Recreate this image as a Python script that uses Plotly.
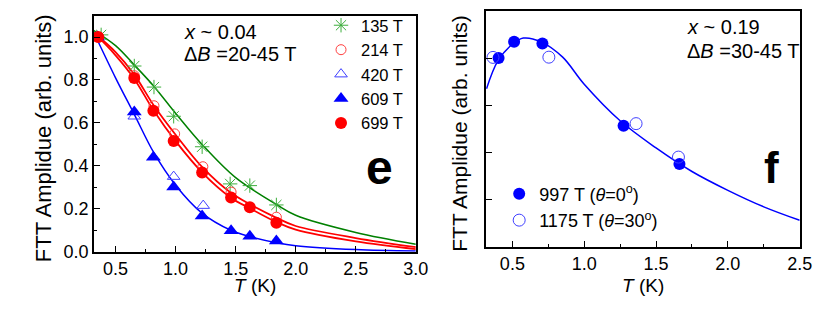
import plotly.graph_objects as go

# ---------------- Panel e data (x ~ 0.04) ----------------
T_135 = [0.38, 0.656, 0.82, 0.984, 1.221, 1.454, 1.618, 1.839]
A_135 = [1.01, 0.865, 0.767, 0.631, 0.489, 0.316, 0.308, 0.218]

T_214 = [0.35, 0.656, 0.82, 0.992, 1.227, 1.462, 1.839]
A_214 = [1.00, 0.82, 0.68, 0.549, 0.396, 0.278, 0.161]

T_420 = [0.35, 0.656, 0.984, 1.23]
A_420 = [1.00, 0.631, 0.35, 0.215]

T_609 = [0.35, 0.656, 0.815, 0.984, 1.221, 1.462, 1.618, 1.839]
A_609 = [1.00, 0.651, 0.44, 0.301, 0.166, 0.098, 0.072, 0.05]

T_699 = [0.356, 0.656, 0.815, 0.984, 1.221, 1.462, 1.618, 1.839]
A_699 = [1.00, 0.809, 0.657, 0.516, 0.369, 0.253, 0.207, 0.135]

# fitted curves
fitT_green = [0.32, 0.5, 0.656, 0.82, 1.0, 1.22, 1.5, 1.84, 2.0, 2.5, 3.0]
fitA_green = [1.03, 0.96, 0.87, 0.77, 0.645, 0.50, 0.345, 0.22, 0.17, 0.09, 0.035]

fitT_red1 = [0.32, 0.5, 0.656, 0.82, 1.0, 1.22, 1.46, 1.84, 2.0, 2.5, 3.0]
fitA_red1 = [1.02, 0.93, 0.825, 0.68, 0.545, 0.395, 0.275, 0.158, 0.12, 0.064, 0.022]

fitT_red2 = [0.32, 0.5, 0.656, 0.82, 1.0, 1.22, 1.46, 1.62, 1.84, 2.0, 2.5, 3.0]
fitA_red2 = [1.02, 0.915, 0.805, 0.655, 0.515, 0.37, 0.252, 0.202, 0.138, 0.103, 0.048, 0.012]

fitT_blue = [0.32, 0.5, 0.656, 0.82, 1.0, 1.22, 1.46, 1.62, 1.84, 2.0, 2.5, 3.0]
fitA_blue = [1.02, 0.81, 0.64, 0.46, 0.31, 0.18, 0.10, 0.07, 0.042, 0.028, 0.01, 0.003]

# ---------------- Panel f data (x ~ 0.19) ----------------
T_997 = [0.404, 0.512, 0.709, 1.274, 1.663]
A_997 = [0.801, 0.870, 0.863, 0.514, 0.352]

T_1175 = [0.365, 0.754, 1.361, 1.656]
A_1175 = [0.804, 0.805, 0.523, 0.381]

fitT_f = [0.32, 0.4, 0.5, 0.576, 0.7, 0.85, 1.0, 1.25, 1.5, 1.75, 2.0, 2.25, 2.5]
fitA_f = [0.671, 0.79, 0.86, 0.886, 0.87, 0.805, 0.69, 0.535, 0.42, 0.32, 0.24, 0.17, 0.113]

W, H = 830, 317
FONT = "Liberation Sans, Arial, sans-serif"
GREEN_L = "#008000"
GREEN_M = "#3cae3c"
RED = "#ff0000"
BLUE = "#0000ff"

fig = go.Figure()

# lines panel e
fig.add_trace(go.Scatter(x=fitT_green, y=fitA_green, mode="lines", line=dict(color=GREEN_L, width=1.5, shape="spline"),
                         showlegend=False, xaxis="x", yaxis="y", hoverinfo="skip"))
fig.add_trace(go.Scatter(x=fitT_red1, y=fitA_red1, mode="lines", line=dict(color=RED, width=1.8, shape="spline"),
                         showlegend=False, xaxis="x", yaxis="y", hoverinfo="skip"))
fig.add_trace(go.Scatter(x=fitT_red2, y=fitA_red2, mode="lines", line=dict(color=RED, width=1.8, shape="spline"),
                         showlegend=False, xaxis="x", yaxis="y", hoverinfo="skip"))
fig.add_trace(go.Scatter(x=fitT_blue, y=fitA_blue, mode="lines", line=dict(color=BLUE, width=1.5, shape="spline"),
                         showlegend=False, xaxis="x", yaxis="y", hoverinfo="skip"))

# markers panel e
fig.add_trace(go.Scatter(x=T_135, y=A_135, mode="markers", name="135 T", legend="legend",
                         marker=dict(symbol="asterisk-open", size=12, color=GREEN_M, line=dict(color=GREEN_M, width=1)),
                         xaxis="x", yaxis="y"))
fig.add_trace(go.Scatter(x=T_214, y=A_214, mode="markers", name="214 T", legend="legend",
                         marker=dict(symbol="circle-open", size=10, color="#ff4040", line=dict(color="#ff4040", width=1)),
                         xaxis="x", yaxis="y"))
fig.add_trace(go.Scatter(x=T_420, y=A_420, mode="markers", name="420 T", legend="legend",
                         marker=dict(symbol="triangle-up-open", size=11, color="#4040ff", line=dict(color="#4040ff", width=1)),
                         xaxis="x", yaxis="y"))
fig.add_trace(go.Scatter(x=T_609, y=A_609, mode="markers", name="609 T", legend="legend",
                         marker=dict(symbol="triangle-up", size=13, color=BLUE),
                         xaxis="x", yaxis="y"))
fig.add_trace(go.Scatter(x=T_699, y=A_699, mode="markers", name="699 T", legend="legend",
                         marker=dict(symbol="circle", size=12, color=RED),
                         xaxis="x", yaxis="y"))

# panel f
fig.add_trace(go.Scatter(x=fitT_f, y=fitA_f, mode="lines", line=dict(color=BLUE, width=1.5, shape="spline"),
                         showlegend=False, xaxis="x2", yaxis="y2", hoverinfo="skip"))
fig.add_trace(go.Scatter(x=T_997, y=A_997, mode="markers", name="997 T (<i>θ</i>=0<sup>o</sup>)", legend="legend2",
                         marker=dict(symbol="circle", size=12, color=BLUE),
                         xaxis="x2", yaxis="y2"))
fig.add_trace(go.Scatter(x=T_1175, y=A_1175, mode="markers", name="1175 T (<i>θ</i>=30<sup>o</sup>)", legend="legend2",
                         marker=dict(symbol="circle-open", size=12, color="#4040ff", line=dict(color="#4040ff", width=1)),
                         xaxis="x2", yaxis="y2"))

def px(x):
    return x / W

def py(y):
    return 1 - y / H

axis_common = dict(showline=True, linecolor="black", linewidth=1.5, mirror=True,
                   ticks="inside", ticklen=6, tickwidth=1.2, tickcolor="black",
                   showgrid=False, zeroline=False,
                   tickfont=dict(family=FONT, size=18, color="black"))

fig.update_layout(
    width=W, height=H,
    margin=dict(l=0, r=0, t=0, b=0),
    paper_bgcolor="white", plot_bgcolor="white",
    font=dict(family=FONT, color="black"),
    xaxis=dict(domain=[px(87.3), px(414.3)], range=[0.32, 3.0], dtick=0.5, tick0=0.5, tickformat=".1f",
               minor=dict(dtick=0.25, tick0=0.25, ticks="inside", ticklen=3, tickcolor="black"),
               anchor="y", **axis_common),
    yaxis=dict(domain=[py(251.7), py(7.8)], range=[0, 1.1], dtick=0.2, tick0=0, tickformat=".1f",
               minor=dict(dtick=0.1, tick0=0, ticks="inside", ticklen=3, tickcolor="black"),
               anchor="x", **axis_common),
    xaxis2=dict(domain=[px(485.7), px(804.3)], range=[0.317, 2.5], dtick=0.5, tick0=0.5, tickformat=".1f",
                minor=dict(dtick=0.25, tick0=0.25, ticks="inside", ticklen=3, tickcolor="black"),
                anchor="y2", **axis_common),
    yaxis2=dict(domain=[py(246.7), py(3.3)], range=[0, 1.0], dtick=0.2, tick0=0, showticklabels=False,
                anchor="x2", **axis_common),
    legend=dict(x=px(318), y=1.0, xanchor="left", yanchor="top", bgcolor="rgba(0,0,0,0)",
                font=dict(family=FONT, size=16.5, color="black"), tracegroupgap=0, itemwidth=30),
    legend2=dict(x=px(499), y=py(173), xanchor="left", yanchor="top", bgcolor="rgba(0,0,0,0)",
                 font=dict(family=FONT, size=18, color="black"), tracegroupgap=0, itemwidth=30),
    showlegend=True,
)

ann = []
def add_text(x, y, text, size=18, bold=False, angle=0, xanchor="center"):
    ann.append(dict(x=px(x), y=py(y), xref="paper", yref="paper", text=("<b>%s</b>" % text) if bold else text,
                    showarrow=False, xanchor=xanchor, yanchor="middle", textangle=angle,
                    font=dict(family=FONT, size=size, color="black")))

add_text(250.7, 287, "<i>T</i> (K)", 19)
add_text(645, 287, "<i>T</i> (K)", 19)
add_text(36, 134, "FTT Amplidue (arb. units)", 22, angle=-90)
add_text(459, 129, "FTT Amplidue (arb. units)", 21, angle=-90)
add_text(177, 25, "<i>x</i> ~ 0.04", 20, xanchor="left")
add_text(177, 48, "Δ<i>B</i> =20-45 T", 20, xanchor="left")
add_text(688, 20, "<i>x</i> ~ 0.19", 20, xanchor="left")
add_text(688, 44, "Δ<i>B</i> =30-45 T", 20, xanchor="left")
add_text(377, 165, "e", 48, bold=True)
add_text(776, 165, "f", 44, bold=True)
fig.update_layout(annotations=ann)

fig.write_html("out.html")
